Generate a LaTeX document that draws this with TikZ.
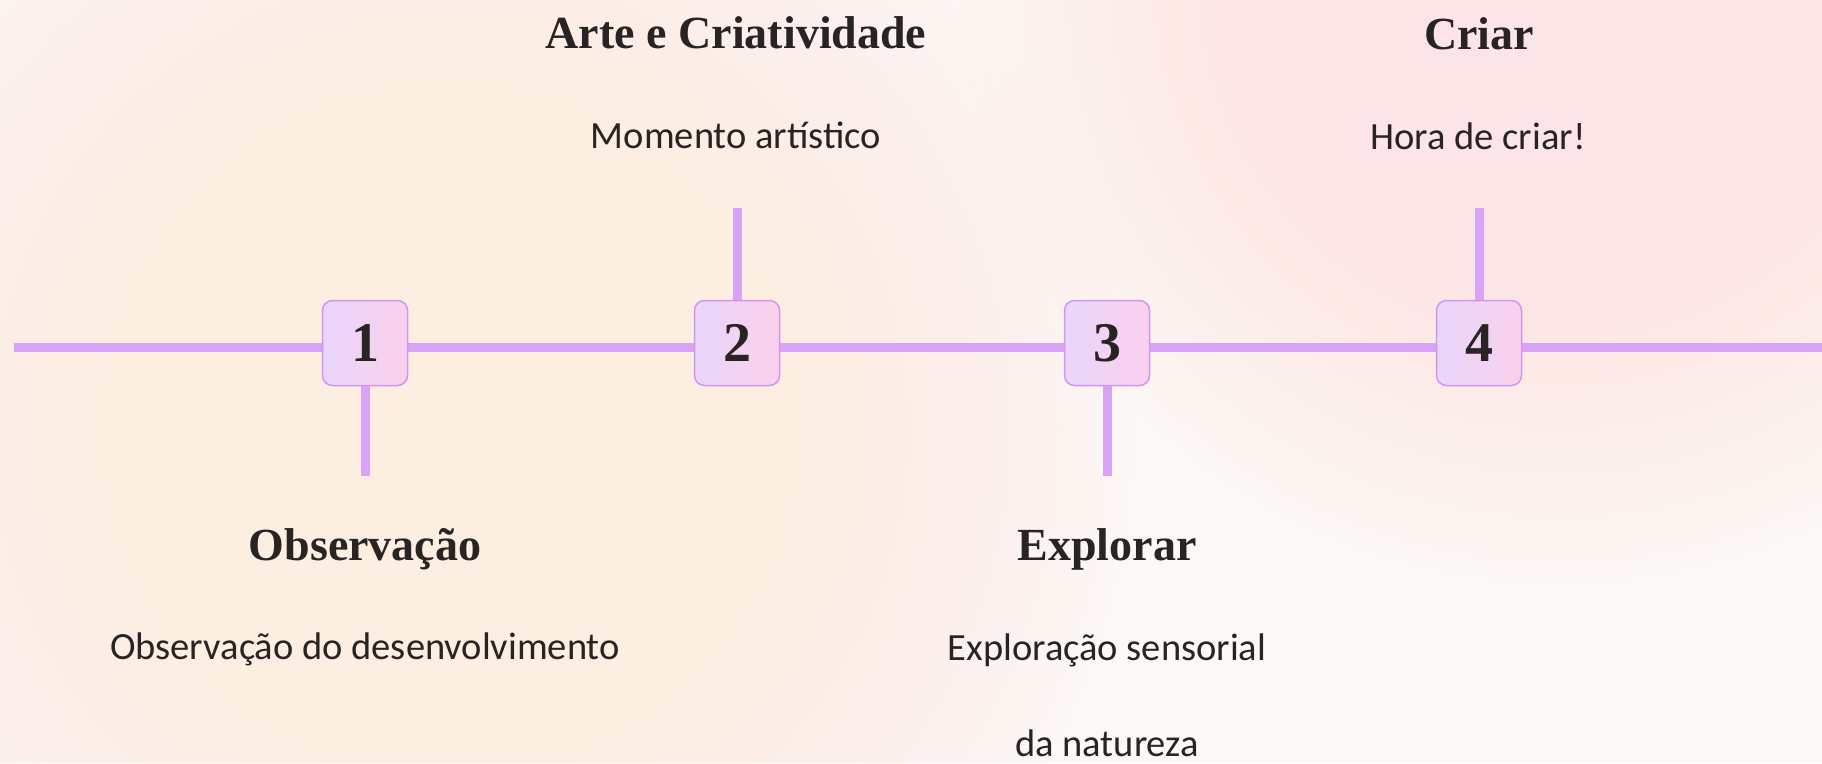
\documentclass[tikz,border=0pt]{standalone}
\usepackage{fontspec}
\setmainfont{Liberation Serif}
\newfontfamily\descfont{Carlito}
\definecolor{bgbase}{RGB}{252,248,245}
\definecolor{peach}{RGB}{253,238,225}
\definecolor{pinkbg}{RGB}{253,229,230}
\definecolor{linec}{RGB}{216,162,246}
\definecolor{boxborder}{RGB}{210,150,240}
\definecolor{boxa}{RGB}{232,214,250}
\definecolor{boxb}{RGB}{250,208,236}
\definecolor{txt}{RGB}{40,36,36}
\tikzset{
  mainline/.style={draw=linec, line width=9pt},
  stub/.style={draw=linec, line width=9pt},
  numbox/.style={draw=boxborder, line width=1.5pt, rounded corners=10pt,
    minimum size=85pt, inner sep=0pt, left color=boxa, right color=boxb,
    text=txt, font=\bfseries\fontsize{56}{56}\selectfont},
  title/.style={anchor=base, text=txt, inner sep=0pt, font=\bfseries\fontsize{46}{46}\selectfont},
  desc/.style={anchor=base, text=txt, inner sep=0pt, font=\descfont\fontsize{38.5}{38.5}\selectfont}
}
\begin{document}
\begin{tikzpicture}[x=1pt,y=-1pt]
\useasboundingbox (0,0) rectangle (1822,763);
% background
\fill[bgbase] (0,0) rectangle (1822,763);
\begin{scope}
\clip (0,0) rectangle (1822,763);
\foreach \r in {1,...,40} \fill[peach, opacity=0.04] (450,430) circle ({17*\r pt});
\foreach \r in {1,...,40} \fill[pinkbg, opacity=0.04] (1560,-20) circle ({15*\r pt});
\foreach \r in {1,...,30} \fill[white, opacity=0.03] (1720,700) circle ({14*\r pt});
\foreach \r in {1,...,25} \fill[white, opacity=0.03] (60,40) circle ({12*\r pt});
\end{scope}
% main line
\coordinate (L) at (14,347);
\coordinate (R) at (1822,347);
\draw[mainline] (L) -- (R);
% stub ends
\coordinate (s1) at (365,476);
\coordinate (s2) at (737,208);
\coordinate (s3) at (1107,476);
\coordinate (s4) at (1479,208);
% boxes
\node[numbox] (b1) at (365,343) {1};
\node[numbox] (b2) at (737,343) {2};
\node[numbox] (b3) at (1107,343) {3};
\node[numbox] (b4) at (1479,343) {4};
\draw[stub] (b1.south) -- (s1);
\draw[stub] (b2.north) -- (s2);
\draw[stub] (b3.south) -- (s3);
\draw[stub] (b4.north) -- (s4);
% texts
\node[title] (t1) at (365,560) {Observação};
\node[desc] (d1) at (365,659) {Observação do desenvolvimento};
\node[title] (t2) at (736,48) {Arte e Criatividade};
\node[desc] (d2) at (736,148) {Momento artístico};
\node[title] (t3) at (1107,560) {Explorar};
\node[desc] (d3) at (1107,660) {Exploração sensorial};
\node[desc] (d3b) at (1107,756) {da natureza};
\node[title] (t4) at (1479,49) {Criar};
\node[desc] (d4) at (1478,149) {Hora de criar!};
\end{tikzpicture}
\end{document}
